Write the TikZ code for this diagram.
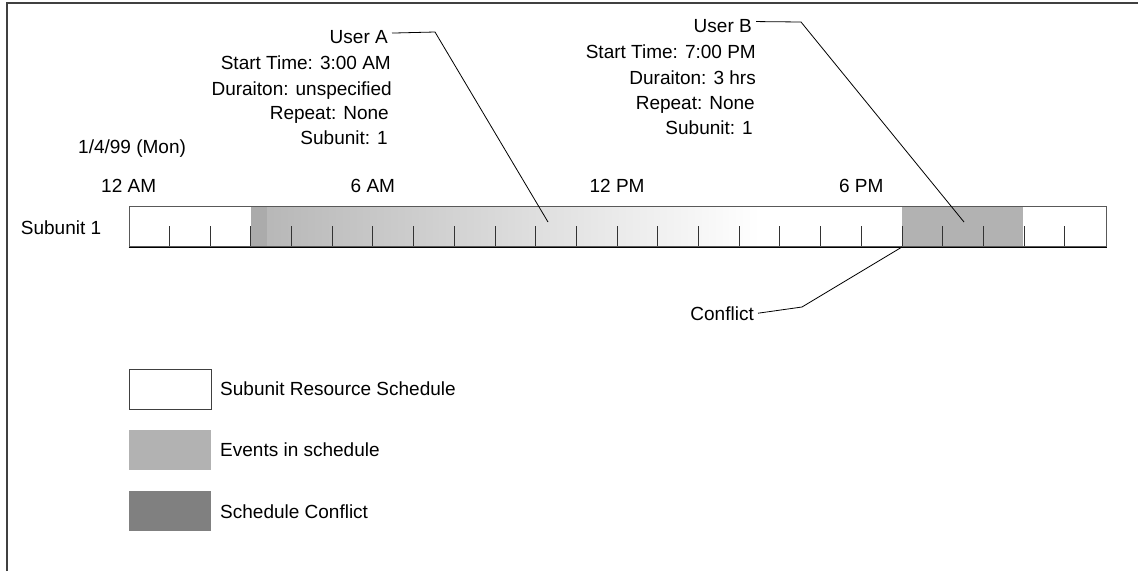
\documentclass[tikz,border=0pt]{standalone}
\usepackage{fontspec}
\setmainfont{Liberation Sans}
\usetikzlibrary{calc}
\begin{document}
\begin{tikzpicture}[x=1pt,y=-1pt,
  lbl/.style={inner sep=0pt, font=\fontsize{19}{23}\selectfont, text=black},
  lead/.style={draw=black, line width=0.8pt},
  tickline/.style={draw=black!80, line width=1pt},
  legbox/.style={minimum width=82pt, minimum height=40pt, inner sep=0pt, anchor=north west}
]
\useasboundingbox (0,0) rectangle (1138,571);
% outer frame (top and left edges)
\draw[line width=1.5pt, draw=black!75] (7,571) -- (7,3) -- (1138,3);

% event fills
\fill[black!33] (251,206) rectangle (267,246);
\shade[left color=black!28, right color=white] (267,206) rectangle (760,246);
\fill[black!30] (902,206) rectangle (1023.4,246);

% hour ticks
\foreach \k in {1,...,23}
  \draw[tickline] (128.7+40.7*\k,226) -- (128.7+40.7*\k,246);

% schedule bar
\node[draw=black!65, line width=1.2pt, minimum width=976.8pt, minimum height=40pt,
      inner sep=0pt, anchor=north west] (bar) at (128.7,206) {};
\draw[black, line width=1.3pt] (bar.south west) -- (bar.south east);

% labels
\node[lbl, anchor=base west] (date) at (78,153) {1/4/99 (Mon)};
\node[lbl, anchor=base] (t0) at (128.7,192) {12 AM};
\node[lbl, anchor=base] (t6) at (372.9,192) {6 AM};
\node[lbl, anchor=base] (t12) at (617.1,192) {12 PM};
\node[lbl, anchor=base] (t18) at (861.3,192) {6 PM};
\node[lbl, anchor=base west] (sub) at (20.7,234) {Subunit 1};

% User A
\node[lbl, anchor=base east] (ua) at (388,43.5) {User A};
\node[lbl, anchor=base east] (ua2) at (391,69) {Start Time: 3:00 AM};
\node[lbl, anchor=base east] (ua3) at (392,95) {Duraiton: unspecified};
\node[lbl, anchor=base east] (ua4) at (389,119.5) {Repeat: None};
\node[lbl, anchor=base east] (ua5) at (388,144) {Subunit: 1};

% User B
\node[lbl, anchor=base east] (ub) at (752,32) {User B};
\node[lbl, anchor=base east] (ub2) at (756,58) {Start Time: 7:00 PM};
\node[lbl, anchor=base east] (ub3) at (756,84) {Duraiton: 3 hrs};
\node[lbl, anchor=base east] (ub4) at (755,109) {Repeat: None};
\node[lbl, anchor=base east] (ub5) at (753,134) {Subunit: 1};

% Conflict
\node[lbl, anchor=base east] (cf) at (754,320) {Conflict};

% leader lines
\coordinate (ak) at (435,32);
\coordinate (aend) at (548,222);
\draw[lead] ($(ua.east)+(4,-4)$) -- (ak) -- (aend);
\coordinate (bk) at (801,22);
\coordinate (bend) at (964,222);
\draw[lead] ($(ub.east)+(4,-4)$) -- (bk) -- (bend);
\coordinate (ck) at (802,307);
\coordinate (cend) at (902,247);
\draw[lead] ($(cf.east)+(4,0)$) -- (ck) -- (cend);

% legend
\node[legbox, draw=black!75, line width=1.2pt, fill=white] (l1) at (129,369) {};
\node[legbox, fill=black!30] (l2) at (129,430) {};
\node[legbox, fill=black!50] (l3) at (129,491) {};
\node[lbl, anchor=base west] (l1t) at (220,395) {Subunit Resource Schedule};
\node[lbl, anchor=base west] (l2t) at (220,456) {Events in schedule};
\node[lbl, anchor=base west] (l3t) at (220,518) {Schedule Conflict};
\end{tikzpicture}
\end{document}
